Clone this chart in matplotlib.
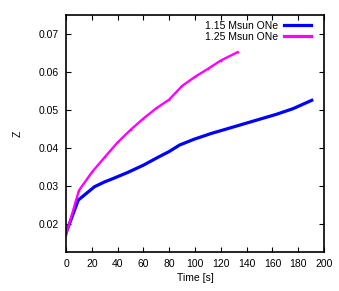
import numpy as np
import matplotlib
matplotlib.use('Agg')
import matplotlib.pyplot as plt

# time [s] and metallicity Z
t_115 = [0, 9.5, 16, 22, 30, 36, 48, 60, 72, 80, 88, 99, 112, 124, 137,
         150, 163, 176, 190.5]
z_115 = [0.0175, 0.0262, 0.0280, 0.0297, 0.0310, 0.0318, 0.0335, 0.0354,
         0.0376, 0.0390, 0.0407, 0.0422, 0.0437, 0.0449, 0.0462, 0.0475,
         0.0488, 0.0503, 0.0525]

t_125 = [0, 10, 20, 30, 40, 50, 60, 70, 80, 90, 100, 110, 120, 133]
z_125 = [0.0170, 0.0287, 0.0335, 0.0375, 0.0414, 0.0447, 0.0477, 0.0504,
         0.0527, 0.0563, 0.0587, 0.0608, 0.0630, 0.0652]

labels = ['1.15 Msun ONe', '1.25 Msun ONe']

plt.rcParams['font.family'] = ['Liberation Sans', 'DejaVu Sans']
plt.rcParams['font.size'] = 7.5

fig = plt.figure(figsize=(3.39, 2.91), dpi=100)
ax = fig.add_axes([66/339, 1 - 252/291, (324-66)/339, (252-15)/291])

ax.plot(t_115, z_115, color='#0000ff', lw=2.3, label=labels[0])
ax.plot(t_125, z_125, color='#ff00ff', lw=1.7, marker='+', ms=2,
        mew=0.6, label=labels[1])

ax.set_xlim(0, 200)
ax.set_ylim(0.0125, 0.075)
ax.set_xticks(np.arange(0, 201, 20))
ax.set_yticks([0.02, 0.03, 0.04, 0.05, 0.06, 0.07])
ax.tick_params(direction='in', length=3.5, width=0.8, top=True, right=True,
               pad=5)
for s in ax.spines.values():
    s.set_linewidth(1.2)

ax.set_xlabel('Time [s]', labelpad=3)
ax.set_ylabel('Z', labelpad=12)

leg = ax.legend(loc='upper right', bbox_to_anchor=(0.97, 1.0), frameon=False,
                markerfirst=False, handlelength=2.5, handletextpad=0.65,
                borderaxespad=0.15, labelspacing=0.1)
for h in leg.legend_handles:
    h.set_marker('')
    h.set_linewidth(2.3)

fig.savefig('out.png', dpi=100)
